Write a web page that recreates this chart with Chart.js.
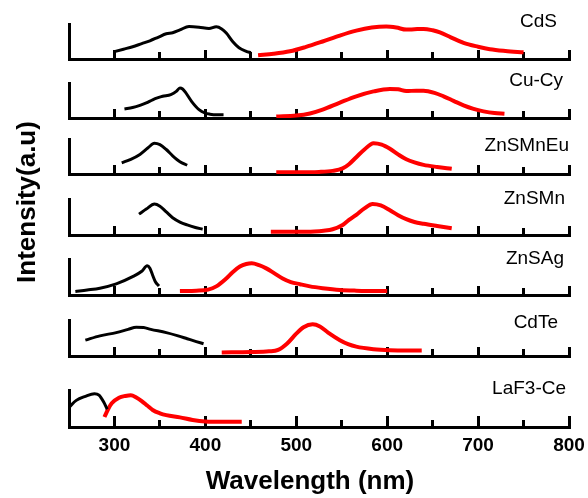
<!DOCTYPE html>
<html>
<head>
<meta charset="utf-8">
<script src="https://cdn.jsdelivr.net/npm/chart.js@4.4.1/dist/chart.umd.min.js"></script>
<style>
  html, body { margin: 0; padding: 0; background: #fff; }
  #wrap { width: 588px; height: 498px; }
</style>
</head>
<body>
<div id="wrap"><canvas id="spectra"></canvas></div>
<script>
// ---------- data: [wavelength nm, relative intensity] ----------
const SAMPLES = ["CdS", "Cu-Cy", "ZnSMnEu", "ZnSMn", "ZnSAg", "CdTe", "LaF3-Ce"];

const WL_MIN = 250;
const WL_MAX = 800;
const MAJOR_STEP = 100;
const MINOR_STEP = 50;

// excitation (black)
const cdsEx = [[300,0.21],[310,0.28],[320,0.35],[330,0.44],[339,0.52],[348,0.62],[357,0.72],[364,0.75],[372,0.83],[382,0.93],[393,0.91],[404,0.87],[412,0.92],[418,0.86],[423,0.74],[430,0.50],[437,0.32],[445,0.22],[450,0.18]];
const cuCyEx = [[311,0.26],[320,0.30],[328,0.36],[335,0.43],[342,0.52],[348,0.58],[353,0.62],[362,0.67],[368,0.76],[372,0.86],[375,0.83],[378,0.74],[385,0.47],[393,0.24],[400,0.14],[405,0.11],[412,0.09],[420,0.09]];
const znsMnEuEx = [[308,0.32],[318,0.42],[328,0.56],[337,0.75],[344,0.88],[350,0.84],[357,0.70],[364,0.52],[372,0.35],[380,0.25]];
const znsMnEx = [[327,0.58],[335,0.72],[344,0.86],[350,0.80],[357,0.64],[364,0.48],[372,0.36],[380,0.28],[389,0.21],[397,0.16]];
const znsAgEx = [[257,0.10],[270,0.14],[284,0.19],[302,0.31],[320,0.51],[330,0.66],[336,0.81],[339,0.74],[342,0.55],[345,0.37],[349,0.25]];
const cdTeEx = [[268,0.44],[284,0.56],[302,0.65],[315,0.74],[324,0.80],[332,0.79],[340,0.74],[357,0.65],[370,0.56],[380,0.48],[390,0.40],[398,0.34]];
const laf3CeEx = [[250,0.53],[258,0.72],[268,0.83],[278,0.90],[283,0.86],[288,0.68],[292,0.48]];

// emission (red)
const cdsEm = [[458,0.11],[475,0.15],[493,0.22],[510,0.34],[529,0.50],[548,0.67],[566,0.81],[583,0.90],[599,0.93],[610,0.90],[621,0.84],[630,0.85],[640,0.86],[650,0.82],[658,0.76],[670,0.62],[684,0.46],[700,0.35],[713,0.28],[730,0.23],[750,0.19]];
const cuCyEm = [[478,0.04],[500,0.07],[515,0.13],[529,0.24],[548,0.44],[566,0.62],[585,0.76],[603,0.83],[612,0.82],[621,0.77],[632,0.78],[640,0.78],[652,0.72],[662,0.62],[673,0.49],[684,0.36],[695,0.26],[706,0.19],[718,0.14],[729,0.12]];
const znsMnEuEm = [[478,0.05],[500,0.05],[525,0.06],[540,0.09],[551,0.16],[558,0.28],[566,0.48],[575,0.70],[585,0.88],[594,0.84],[603,0.72],[612,0.56],[621,0.42],[630,0.33],[640,0.26],[655,0.20],[671,0.15]];
const znsMnEm = [[472,0.09],[500,0.09],[520,0.10],[530,0.12],[540,0.16],[551,0.28],[558,0.42],[566,0.56],[575,0.74],[584,0.86],[593,0.82],[603,0.69],[612,0.55],[621,0.44],[630,0.36],[640,0.31],[655,0.25],[671,0.19]];
const znsAgEm = [[372,0.11],[390,0.12],[403,0.15],[412,0.24],[423,0.46],[430,0.63],[438,0.79],[445,0.86],[451,0.88],[459,0.83],[467,0.74],[476,0.60],[485,0.46],[494,0.36],[504,0.30],[515,0.24],[529,0.19],[548,0.14],[566,0.12],[585,0.11],[600,0.11]];
const cdTeEm = [[418,0.10],[450,0.11],[470,0.13],[480,0.17],[490,0.35],[500,0.62],[508,0.80],[518,0.88],[526,0.82],[535,0.65],[548,0.44],[557,0.33],[566,0.26],[585,0.19],[603,0.16],[620,0.15],[638,0.15]];
const laf3CeEm = [[289,0.27],[293,0.48],[297,0.64],[305,0.79],[312,0.84],[318,0.86],[324,0.80],[330,0.70],[336,0.58],[342,0.46],[350,0.37],[357,0.32],[372,0.26],[386,0.19],[400,0.15],[420,0.14],[440,0.14]];

const EXCITATION = [cdsEx, cuCyEx, znsMnEuEx, znsMnEx, znsAgEx, cdTeEx, laf3CeEx];
const EMISSION = [cdsEm, cuCyEm, znsMnEuEm, znsMnEm, znsAgEm, cdTeEm, laf3CeEm];

// ---------- layout of the stacked panels (px) ----------
const PANEL_H = [35, 35, 35, 36, 36, 36, 37];
const GAP_H = [24, 21, 25, 24, 25, 34];
// sample name placement, relative to panel top / plot right edge
const NAME_DY = [-2, -2, 7, 0, 0, 3, -1];
const NAME_DX = [-12, -6, 0, -4, -5, -11, -3];

const FONT = "'Liberation Sans', Arial, sans-serif";
Chart.defaults.font.family = FONT;
Chart.defaults.color = "#000";

// ---------- scales ----------
const scales = {};
let order = SAMPLES.length * 2; // left stack: higher weight sits higher
SAMPLES.forEach((name, i) => {
  scales["y" + i] = {
    type: "linear", axis: "y", position: "left",
    stack: "panels", stackWeight: PANEL_H[i], weight: order--,
    min: 0, max: 1,
    grid: { display: false, drawTicks: false },
    ticks: { display: false },
    border: { display: true, color: "#000", width: 3 }
  };
  if (i < GAP_H.length) {
    scales["ygap" + i] = {
      type: "linear", axis: "y", position: "left", display: false,
      stack: "panels", stackWeight: GAP_H[i], weight: order--
    };
  }
});

SAMPLES.forEach((name, i) => {
  const bottom = i === SAMPLES.length - 1;
  // baseline with long ticks every 100 nm
  scales[bottom ? "x" : "x" + i] = {
    type: "linear", axis: "x",
    position: bottom ? "bottom" : { ["y" + i]: 0 },
    min: WL_MIN, max: WL_MAX,
    grid: { drawOnChartArea: false, tickLength: -11, tickColor: "#000", tickWidth: 3 },
    border: { color: "#000", width: 3 },
    ticks: bottom
      ? { stepSize: MAJOR_STEP, includeBounds: false, autoSkip: false, maxRotation: 0, padding: 18.6,
          font: { size: 19, weight: "bold" }, color: "#000" }
      : { stepSize: MAJOR_STEP, includeBounds: false, display: false },
    afterFit: (s) => { s.paddingLeft = 0; s.paddingRight = 0; }
  };
  // short ticks every 50 nm
  scales["xm" + i] = {
    type: "linear", axis: "x",
    position: { ["y" + i]: 0 },
    min: WL_MIN, max: WL_MAX,
    grid: { drawOnChartArea: false, tickLength: -7, tickColor: "#000", tickWidth: 3 },
    border: { display: false },
    ticks: { stepSize: MINOR_STEP, display: false }
  };
});

// ---------- datasets ----------
const toXY = (pts) => pts.map(([x, y]) => ({ x, y }));
const datasets = [];
SAMPLES.forEach((name, i) => {
  datasets.push({
    label: name + " excitation", data: toXY(EXCITATION[i]),
    xAxisID: "x", yAxisID: "y" + i,
    borderColor: "#000", borderWidth: 3
  });
  datasets.push({
    label: name + " emission", data: toXY(EMISSION[i]),
    xAxisID: "x", yAxisID: "y" + i,
    borderColor: "#ff0000", borderWidth: 4
  });
});

// sample names and the two axis titles
const panelText = {
  id: "panelText",
  afterDraw(chart) {
    const { ctx, chartArea } = chart;
    ctx.save();
    ctx.fillStyle = "#000";
    ctx.font = "19px " + FONT;
    ctx.textAlign = "right";
    ctx.textBaseline = "middle";
    SAMPLES.forEach((name, i) => {
      ctx.fillText(name, chartArea.right + NAME_DX[i], chart.scales["y" + i].top + NAME_DY[i]);
    });

    ctx.font = "bold 26px " + FONT;
    ctx.textAlign = "center";
    ctx.fillText("Wavelength (nm)", 310, 482);

    ctx.translate(27.5, 202);
    ctx.rotate(-Math.PI / 2);
    ctx.fillText("Intensity(a.u)", 0, 0);
    ctx.restore();
  }
};

new Chart(document.getElementById("spectra"), {
  type: "line",
  data: { datasets },
  options: {
    responsive: true,
    maintainAspectRatio: false,
    animation: false,
    elements: {
      point: { radius: 0 },
      line: { cubicInterpolationMode: "monotone", borderJoinStyle: "round", fill: false }
    },
    layout: { padding: { left: 69, right: 19, top: 24, bottom: 22 } },
    plugins: { legend: { display: false }, tooltip: { enabled: false } },
    scales
  },
  plugins: [panelText]
});
</script>
</body>
</html>
